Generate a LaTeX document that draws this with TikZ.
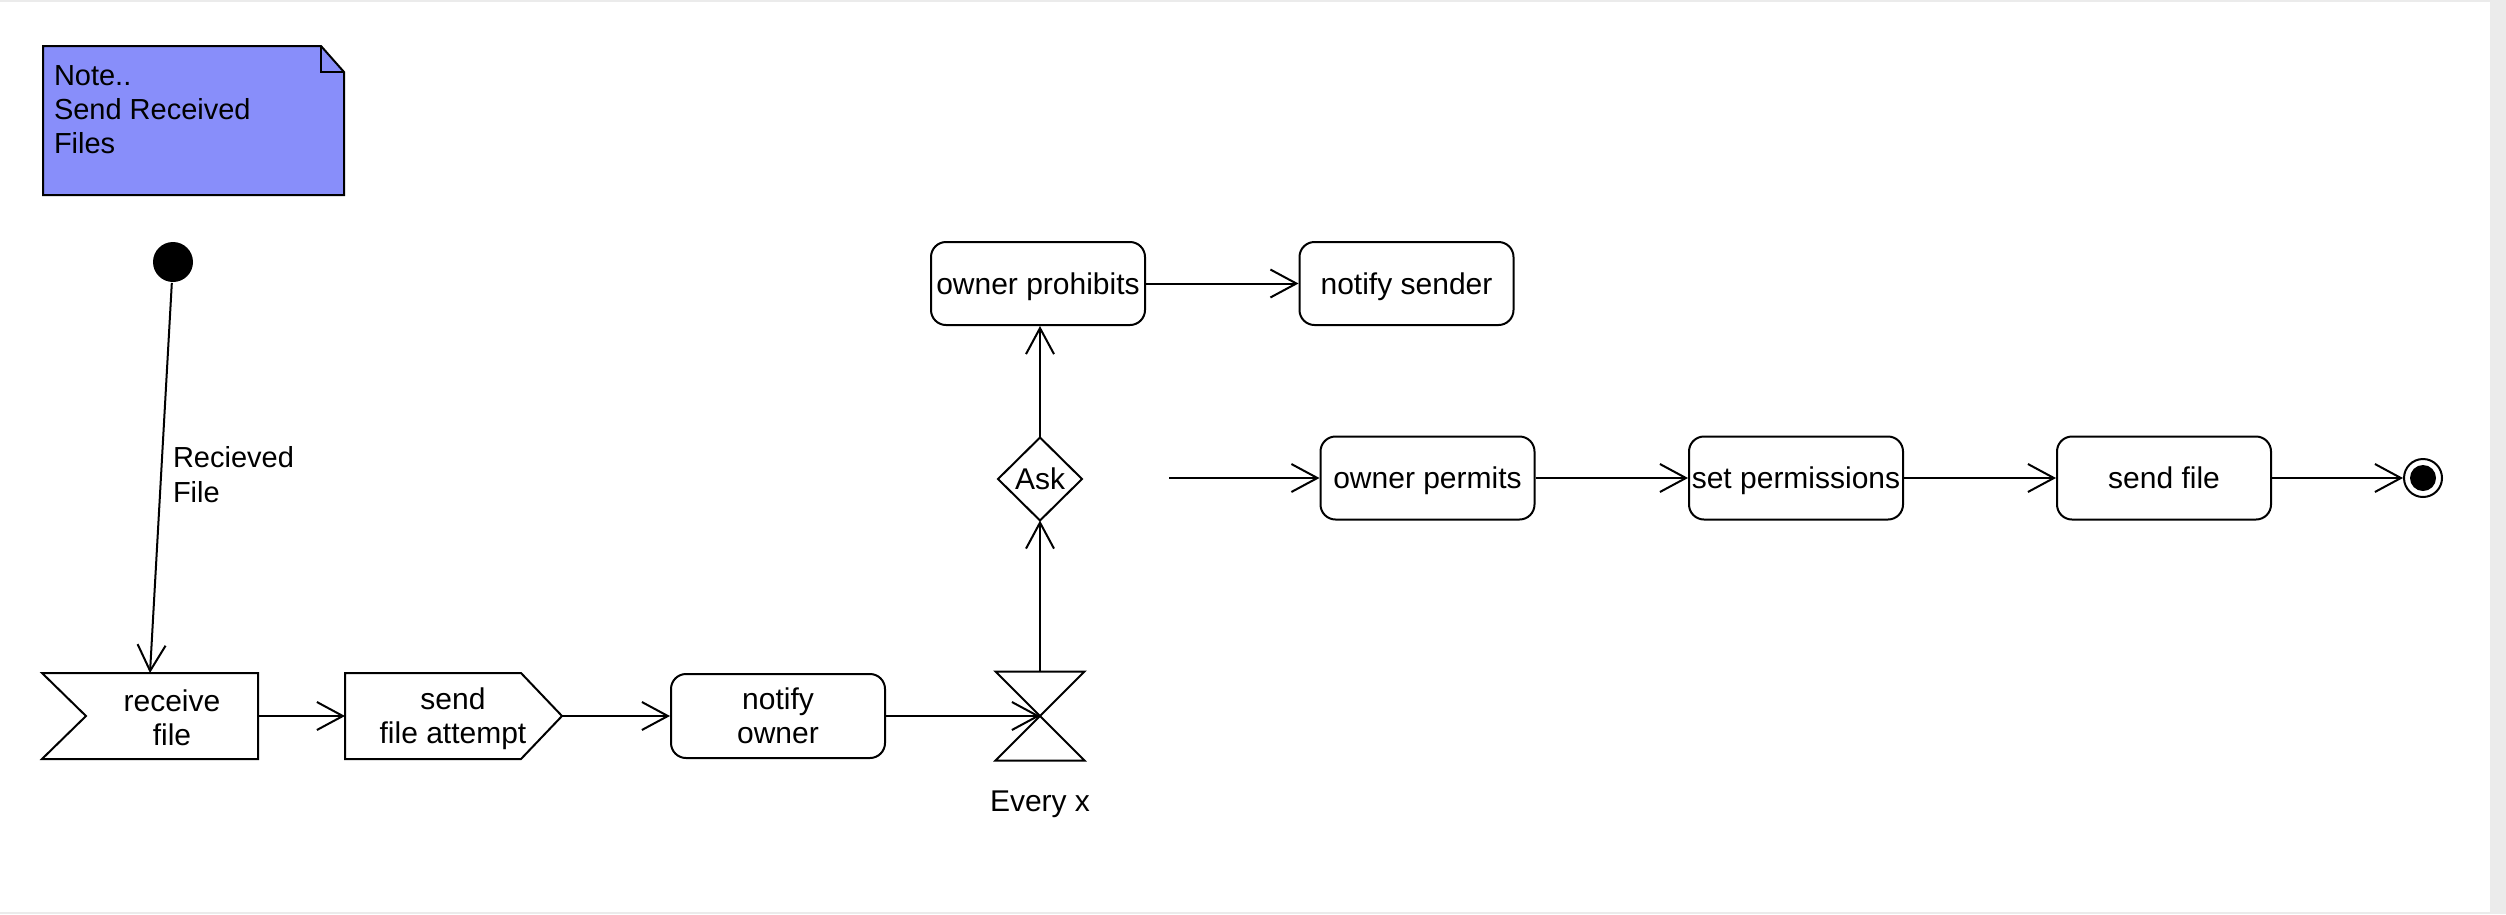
\documentclass[tikz,border=0pt]{standalone}
\usepackage{fontspec}
\setmainfont{Liberation Sans}
\usetikzlibrary{arrows.meta}
\definecolor{notefill}{RGB}{136,142,250}
\definecolor{framegray}{RGB}{235,235,235}
\begin{document}
\begin{tikzpicture}[x=1pt,y=-1pt,line width=2pt,
  arr/.style={-{Straight Barb[length=26pt,width=28pt]}},
  txt/.style={font=\fontsize{30}{34}\selectfont},
  rbox/.style={draw,rounded corners=15pt,minimum width=214pt,minimum height=83pt,inner sep=0pt,txt},
  one/.style={text height=21.5pt,text depth=0pt},
  frame/.style={minimum height=84pt,inner sep=0pt}]
\fill[framegray] (0,0) rectangle (2506,914);
\fill[white] (0,2) rectangle (2490,912);
\useasboundingbox (0,0) rectangle (2506,914);

% note
\draw[fill=notefill] (43,46) -- (321,46) -- (344,72) -- (344,195) -- (43,195) -- cycle;
\draw (321,46) -- (321,72) -- (344,72);
\node[anchor=base west,inner sep=0pt,font=\fontsize{29}{34}\selectfont] (note) at (53,85)
  {\begin{tabular}[t]{@{}l@{}}Note..\\Send Received\\Files\end{tabular}};

% initial
\node[circle,fill=black,minimum size=40pt,inner sep=0pt] (init) at (173,262) {};

% receive file (accept event)
\node[frame,minimum width=214pt] (rcv) at (150,716) {};
\draw (rcv.north west) -- (rcv.north east) -- (rcv.south east) -- (rcv.south west)
  -- ([xshift=44pt]rcv.west) -- cycle;
\node[txt,align=center,inner sep=0pt] (rcvtext) at (172,717.5) {receive\\file};

% send file attempt (send signal)
\node[frame,minimum width=215pt] (snd) at (453.5,716) {};
\draw (snd.north west) -- ([xshift=-41pt]snd.north east) -- (snd.east)
  -- ([xshift=-41pt]snd.south east) -- (snd.south west) -- cycle;
\node[txt,align=center,inner sep=0pt] (sndtext) at (453,719) {send\\file attempt};

% notify owner
\node[rbox,minimum height=84pt,align=center] (own) at (778,716) {notify\\owner};

% time event
\node[minimum width=87pt,minimum height=87pt,inner sep=0pt] (hg) at (1040,716) {};
\draw (hg.north west) -- (hg.north east) -- (hg.south west) -- (hg.south east) -- cycle;
\node[anchor=base,txt,inner sep=0pt] (every) at (1040,811) {Every x};

% decision
\node[minimum width=82pt,minimum height=81pt,inner sep=0pt,txt] (ask) at (1040,479) {Ask};
\draw (ask.north) -- (ask.east) -- (ask.south) -- (ask.west) -- cycle;

% actions
\node[rbox,one] (proh) at (1038,283.5) {owner prohibits};
\node[rbox,one] (sndr) at (1406.5,283.5) {notify sender};
\node[rbox,one] (perm) at (1427.5,478) {owner permits};
\node[rbox,one] (setp) at (1796,478) {set permissions};
\node[rbox,one] (sendf) at (2164,478) {send file};

% final
\node[circle,draw,minimum size=38pt,inner sep=0pt] (fin) at (2423,478) {};
\fill (fin.center) circle (13pt);

\coordinate (c0) at (1169,478);

% label
\node[anchor=base west,inner sep=0pt,font=\fontsize{29}{35}\selectfont] (lbl) at (172,467)
  {\begin{tabular}[t]{@{}l@{}}Recieved\\File\end{tabular}};

% connectors
\draw[arr] (init) -- (rcv.north);
\draw[arr] (rcv.east) -- (snd.west);
\draw[arr] (snd.east) -- (own.west);
\draw[arr] (own.east) -- (hg.center);
\draw[arr] (hg.north) -- (ask.south);
\draw[arr] (ask.north) -- (ask.north |- proh.south);
\draw[arr] (proh.east) -- (sndr.west);
\draw[arr] (c0) -- (perm.west);
\draw[arr] (perm.east) -- (setp.west);
\draw[arr] (setp.east) -- (sendf.west);
\draw[arr] (sendf.east) -- (fin);
\end{tikzpicture}
\end{document}
